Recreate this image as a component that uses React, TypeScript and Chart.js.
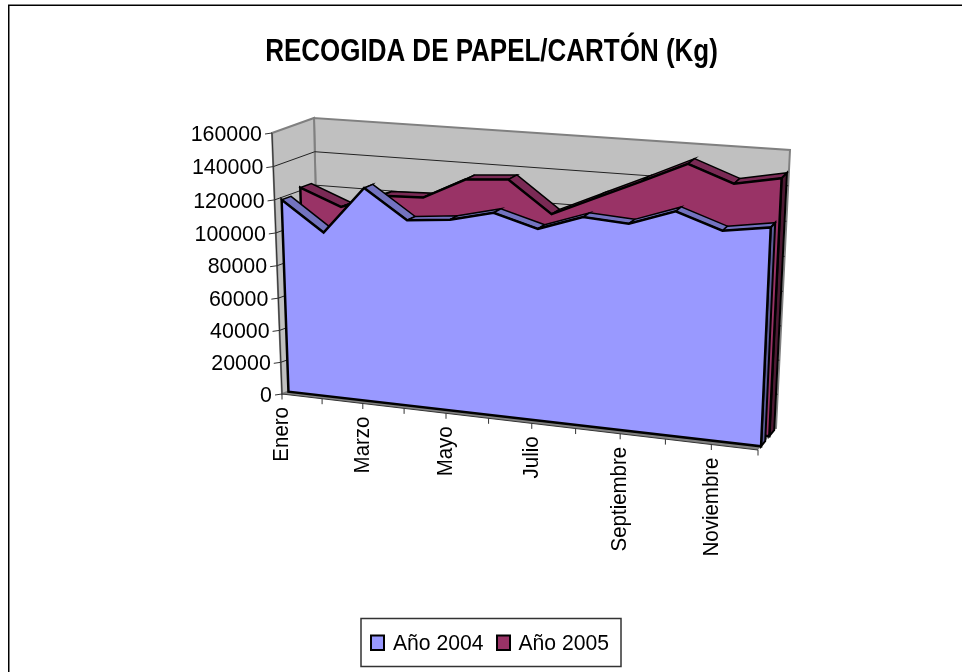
import React, { useEffect, useRef } from "react";
import { Chart, registerables } from "chart.js";

Chart.register(...registerables);

const categories = ["Enero","Febrero","Marzo","Abril","Mayo","Junio","Julio","Agosto","Septiembre","Octubre","Noviembre","Diciembre"];
const values2004 = [118600,100900,129700,112700,115200,121400,114200,123200,121600,130800,122000,126100];
const values2005 = [121800,112200,120800,121700,134200,136100,118000,129400,140800,152700,143400,148400];
const yTicks = [0,20000,40000,60000,80000,100000,120000,140000,160000];
const title = "RECOGIDA DE PAPEL/CARTÓN (Kg)";
const fontFamily = '"Liberation Sans", Arial, sans-serif';

type Pt = [number, number];
const C = {
  f0b: [282, 394] as Pt, f1b: [758, 450] as Pt, f0t: [272, 133] as Pt, f1t: [770, 170] as Pt,
  b0b: [320, 380] as Pt, b1b: [776, 428] as Pt, b0t: [314, 118] as Pt, b1t: [790, 150] as Pt,
};
const K = 0.92;
const KV = 0.967;
const lerp = (a: Pt, b: Pt, t: number): Pt => [a[0] + (b[0] - a[0]) * t, a[1] + (b[1] - a[1]) * t];
function project(uRaw: number, vRaw: number, d: number): Pt {
  const u = (uRaw * K) / (1 + uRaw * (K - 1));
  const v = (vRaw * KV) / (1 + vRaw * (KV - 1));
  const front = lerp(lerp(C.f0b, C.f1b, u), lerp(C.f0t, C.f1t, u), v);
  const back = lerp(lerp(C.b0b, C.b1b, u), lerp(C.b0t, C.b1t, u), v);
  return lerp(front, back, d);
}

function poly(ctx: CanvasRenderingContext2D, pts: Pt[], fill: string | null, stroke: string | null, lw = 1) {
  ctx.beginPath();
  pts.forEach((p, i) => (i ? ctx.lineTo(p[0], p[1]) : ctx.moveTo(p[0], p[1])));
  ctx.closePath();
  if (fill) { ctx.fillStyle = fill; ctx.fill(); }
  if (stroke) { ctx.strokeStyle = stroke; ctx.lineWidth = lw; ctx.lineJoin = "miter"; ctx.stroke(); }
}
function line(ctx: CanvasRenderingContext2D, a: Pt, b: Pt, color: string, lw = 1) {
  ctx.beginPath(); ctx.moveTo(a[0], a[1]); ctx.lineTo(b[0], b[1]);
  ctx.strokeStyle = color; ctx.lineWidth = lw; ctx.stroke();
}
function text(ctx: CanvasRenderingContext2D, s: string, x: number, y: number, opts: { align?: CanvasTextAlign; base?: CanvasTextBaseline; rot?: number; font?: string; sx?: number } = {}) {
  ctx.save();
  ctx.translate(x, y);
  if (opts.rot) ctx.rotate(opts.rot);
  ctx.scale(opts.sx ?? 0.91, 1);
  ctx.font = opts.font ?? `22.5px ${fontFamily}`;
  ctx.textAlign = opts.align ?? "left";
  ctx.textBaseline = opts.base ?? "alphabetic";
  ctx.fillStyle = "#000";
  ctx.fillText(s, 0, 0);
  ctx.restore();
}

const seriesStyle = [
  { d0: 0.17, d1: 0.4, front: "#9999FF", top: "#7373C0", side: "#5C5C99" },
  { d0: 0.63, d1: 0.9, front: "#993366", top: "#7A2A55", side: "#4D1A33" },
];

const framePlugin = {
  id: "frame",
  beforeDraw(chart: any) {
    const ctx = chart.ctx as CanvasRenderingContext2D;
    ctx.save();
    ctx.fillStyle = "#fff";
    ctx.fillRect(0, 0, chart.width, chart.height);
    ctx.fillStyle = "#808080"; ctx.fillRect(8, 4, 954, 1); ctx.fillRect(9, 4, 1, 668);
    ctx.fillStyle = "#000"; ctx.fillRect(8, 5, 954, 1); ctx.fillRect(8, 5, 1, 667);

    // title
    text(ctx, title, 491.5, 61, { align: "center", font: `bold 31px ${fontFamily}`, sx: 0.838 });

    // legend
    const L = 361, R = 621, T = 618.5, B = 666.5;
    ctx.strokeStyle = "#333"; ctx.lineWidth = 1.5;
    ctx.strokeRect(L, T, R - L, B - T);
    const items = [{ bx: 371, tx: 393 }, { bx: 497, tx: 518.5 }];
    chart.data.datasets.forEach((ds: any, i: number) => {
      ctx.fillStyle = ds.backgroundColor;
      ctx.fillRect(items[i].bx, 635.5, 13, 14.5);
      ctx.strokeStyle = "#000"; ctx.lineWidth = 2;
      ctx.strokeRect(items[i].bx, 635.5, 13, 14.5);
      text(ctx, ds.label, items[i].tx, 650, { sx: 0.94 });
    });
    ctx.restore();
  },
};

const box3dPlugin = {
  id: "box3d",
  afterDatasetsDraw(chart: any) {
    const ctx = chart.ctx as CanvasRenderingContext2D;
    const xs = chart.scales.x, ys = chart.scales.y;
    const toU = (px: number) => (px - xs.left) / xs.width;
    const toV = (py: number) => (ys.bottom - py) / ys.height;
    ctx.save();
    ctx.lineCap = "butt";

    // walls and floor
    poly(ctx, [project(0,0,1), project(1,0,1), project(1,1,1), project(0,1,1)], "#C0C0C0", "#808080", 2);
    poly(ctx, [project(0,0,0), project(0,0,1), project(0,1,1), project(0,1,0)], "#C0C0C0", "#808080", 2);
    poly(ctx, [project(0,0,0), project(1,0,0), project(1,0,1), project(0,0,1)], "#808080", null);

    // grid lines and value axis
    yTicks.forEach((t) => {
      const v = toV(ys.getPixelForValue(t));
      if (t > 0 && t < 160000) {
        line(ctx, project(0, v, 0), project(0, v, 1), "#222", 1);
        line(ctx, project(0, v, 1), project(1, v, 1), "#222", 1);
      }
      const a = project(0, v, 0);
      line(ctx, [a[0] - 7, a[1] + 1], a, "#333", 1);
      text(ctx, String(t), a[0] - 10, a[1] + 1.5, { align: "right", base: "middle", sx: 0.95 });
    });
    line(ctx, project(0, 0, 0), project(0, 1, 0), "#333", 1);
    line(ctx, project(0, 0, 0), project(1, 0, 0), "#333", 1);

    // category axis
    categories.forEach((c, i) => {
      const u = toU(xs.getPixelForValue(i));
      const a = project(u, 0, 0);
      line(ctx, a, [a[0], a[1] + 5.5], "#333", 1);
      if (i % 2 === 0 && i < 11) {
        text(ctx, c, a[0], a[1] + 13, { align: "right", base: "middle", rot: -Math.PI / 2 });
      }
    });

    // area series, back one first
    [1, 0].forEach((idx) => {
      const s = seriesStyle[idx];
      const pts = chart.getDatasetMeta(idx).data.map((e: any) => [toU(e.x), toV(e.y)] as Pt);
      const n = pts.length;
      for (let i = 0; i < n - 1; i++) {
        const [u0, v0] = pts[i], [u1, v1] = pts[i + 1];
        poly(ctx, [project(u0, v0, s.d0), project(u1, v1, s.d0), project(u1, v1, s.d1), project(u0, v0, s.d1)], s.top, "#000", 1.5);
      }
      const [ue, ve] = pts[n - 1];
      poly(ctx, [project(ue, 0, s.d0), project(ue, ve, s.d0), project(ue, ve, s.d1), project(ue, 0, s.d1)], s.side, "#000", 2);
      const front: Pt[] = pts.map(([u, v]: Pt) => project(u, v, s.d0));
      front.push(project(ue, 0, s.d0), project(pts[0][0], 0, s.d0));
      poly(ctx, front, s.front, "#000", 2.5);
    });
    ctx.restore();
  },
};

export default function App() {
  const ref = useRef<HTMLCanvasElement>(null);
  useEffect(() => {
    document.body.style.margin = "0";
    const chart = new Chart(ref.current!, {
      type: "line",
      data: {
        labels: categories,
        datasets: [
          { label: "Año 2004", data: values2004, backgroundColor: "#9999FF", borderColor: "#000", borderWidth: 2, showLine: false, pointRadius: 0 },
          { label: "Año 2005", data: values2005, backgroundColor: "#993366", borderColor: "#000", borderWidth: 2, showLine: false, pointRadius: 0 },
        ],
      },
      options: {
        responsive: false,
        animation: false,
        layout: { padding: { left: 280, right: 200, top: 130, bottom: 220 } },
        scales: {
          x: { type: "category", display: false },
          y: { type: "linear", display: false, min: 0, max: 160000, ticks: { stepSize: 20000 } },
        },
        plugins: {
          tooltip: { enabled: false },
          title: { display: false },
          legend: { display: false },
        },
      } as any,
      plugins: [framePlugin, box3dPlugin],
    });
    return () => chart.destroy();
  }, []);
  return <canvas ref={ref} width={962} height={672} style={{ display: "block" }} />;
}
